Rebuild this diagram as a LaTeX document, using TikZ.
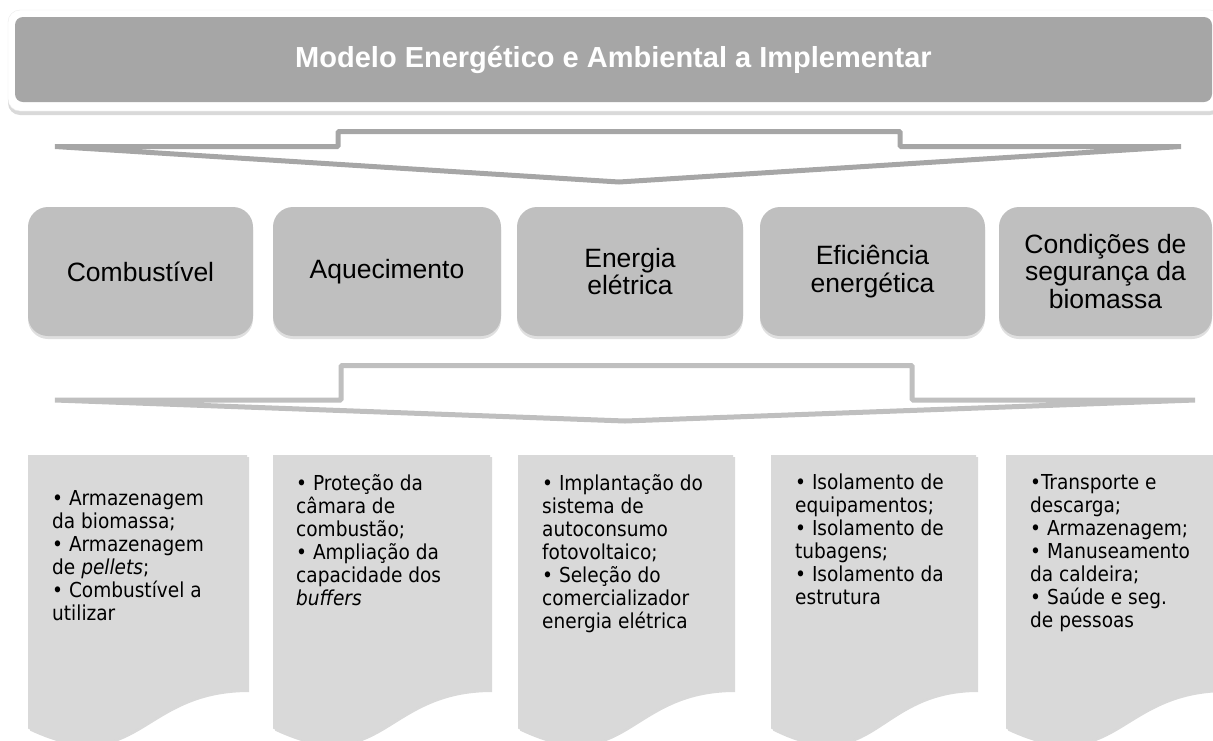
\documentclass[tikz,border=0pt]{standalone}
\usepackage{fontspec}
\setmainfont{Liberation Sans}
\newfontfamily\listfont{DejaVu Sans Condensed}
\usetikzlibrary{positioning, shadows}
\definecolor{titlegray}{HTML}{A6A6A6}
\definecolor{catgray}{HTML}{BFBFBF}
\definecolor{docgray}{HTML}{D9D9D9}
\tikzset{
  % banner on top
  titlebox/.style={rounded corners=8pt, fill=titlegray, text=white,
                   font=\fontsize{29}{34}\selectfont\bfseries,
                   minimum width=1197pt, minimum height=85pt, inner sep=0pt},
  % white rim round the banner
  titlerim/.style={fill=white, draw=black!8, rounded corners=12pt,
                   drop shadow={shadow xshift=0pt, shadow yshift=-4pt, opacity=0.3}},
  % middle row of topics
  catbox/.style={rounded corners=20pt, fill=catgray, align=center,
                 font=\fontsize{26.5}{27.5}\selectfont, text=black,
                 minimum width=#1, minimum height=129pt, inner sep=0pt,
                 drop shadow={shadow xshift=0pt, shadow yshift=-3pt, opacity=0.25}},
  % open chevron between rows
  chevron/.style={draw=#1, line width=5pt, line join=bevel},
  % page with wavy bottom
  docpage/.style={fill=docgray,
                  drop shadow={shadow xshift=2pt, shadow yshift=-2pt, opacity=0.3}},
  doctext/.style={anchor=north west, align=left, inner sep=0pt,
                  font=\listfont\fontsize{20.6}{23}\selectfont},
}

\begin{document}
\begin{tikzpicture}[x=1pt, y=-1pt]
  \path[use as bounding box] (0,0) rectangle (1213,740);
  % banner
  \path[titlerim] (8,10) rectangle (1222,111);
  \node[titlebox] (title) at (613.5,59.5)
    {Modelo Energético e Ambiental a Implementar};
  % first chevron
  \draw[chevron=titlegray] (55,146.5) -- (338,146.5) -- (338,131.5)
    -- (900,131.5) -- (900,146.5) -- (1181,146.5) -- (619,182) -- cycle;
  % topics
  \foreach \i/\cx/\w/\txt in {1/140.5/225pt/Combustível,
                              2/387/228pt/Aquecimento,
                              3/630/226pt/{Energia\\elétrica},
                              4/872.5/225pt/{Eficiência\\energética},
                              5/1105.5/213pt/{Condições de\\segurança da\\biomassa}}
    \node[catbox=\w] (cat\i) at (\cx,271.5) {\txt};
  % second chevron
  \draw[chevron=catgray] (55,400) -- (341,400) -- (341,365.5)
    -- (912,365.5) -- (912,400) -- (1195,400) -- (625,421) -- cycle;
  % pages
  \foreach \i/\l/\w in {1/28/219, 2/273/217, 3/518/215, 4/771/205, 5/1006/219}{
    \pgfmathsetmacro{\xr}{\l+\w}
    \pgfmathsetmacro{\xm}{\l+\w/2}
    \path[docpage] (\l,455) -- (\xr,455) -- (\xr,690)
      .. controls (\xm,690) and (\xm,779.5) .. (\l,728.6) -- cycle;
  }
  % page texts
  \node[doctext] (txt1) at (52,490)
    {• Armazenagem\\da biomassa;\\• Armazenagem\\de \textit{pellets};\\• Combustível a\\utilizar};
  \node[doctext] (txt2) at (296,474)
    {• Proteção da\\câmara de\\combustão;\\• Ampliação da\\capacidade dos\\\textit{buffers}};
  \node[doctext] (txt3) at (542,474)
    {• Implantação do\\sistema de\\autoconsumo\\fotovoltaico;\\• Seleção do\\comercializador\\energia elétrica};
  \node[doctext] (txt4) at (795,474)
    {• Isolamento de\\equipamentos;\\• Isolamento de\\tubagens;\\• Isolamento da\\estrutura};
  \node[doctext] (txt5) at (1030,474)
    {•Transporte e\\descarga;\\• Armazenagem;\\• Manuseamento\\da caldeira;\\• Saúde e seg.\\de pessoas};
\end{tikzpicture}
\end{document}
